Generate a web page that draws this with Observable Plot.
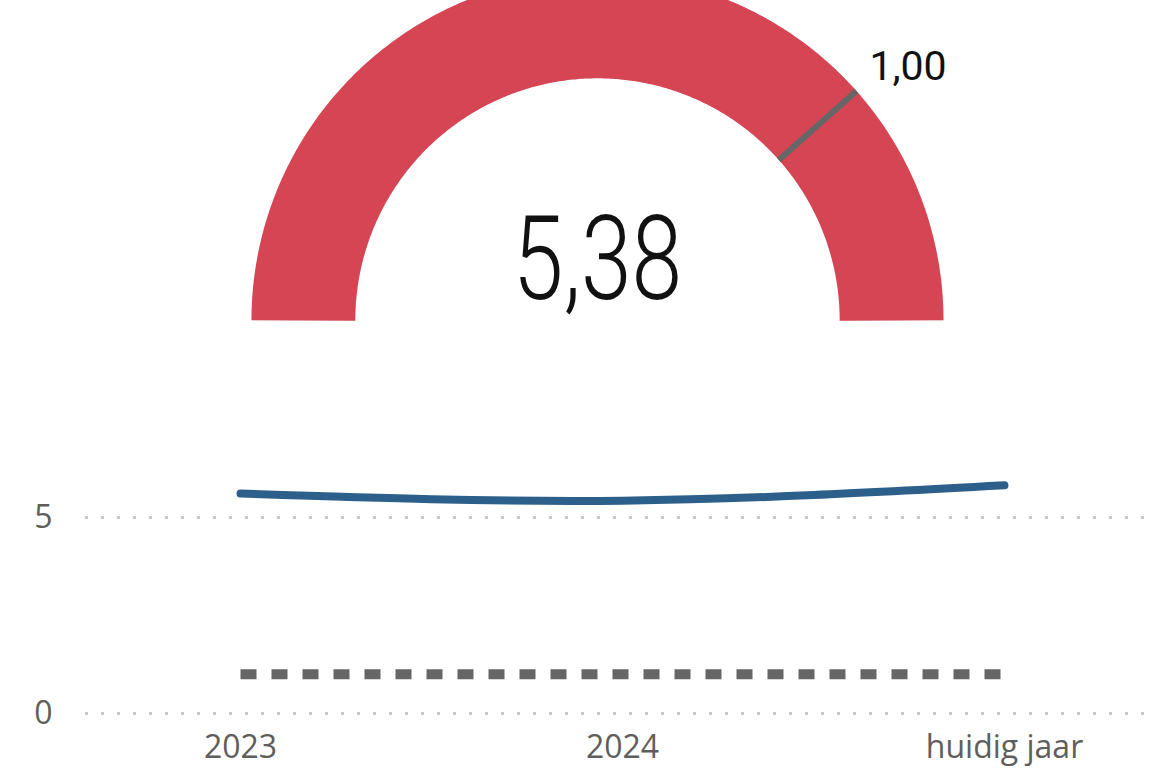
<!DOCTYPE html>
<html><head><meta charset="utf-8">
<script src="https://cdn.jsdelivr.net/npm/d3@7"></script>
<script src="https://cdn.jsdelivr.net/npm/@observablehq/plot@0.6"></script>
<style>
html,body{margin:0;padding:0;background:#fff;}
#chart svg{display:block;}
</style></head><body><div id="chart"></div>
<script>
// ---- data ----
const gaugeValue = 5.38;
const gaugeTarget = 1.0;
const gaugeMin = 0;
const gaugeMax = 1.3;
const categories = ["2023", "2024", "huidig jaar"];
const seriesValues = [5.61, 5.43, 5.82];
const targetValues = [1, 1, 1];
const yTicks = [0, 5];

const nl = d3.formatLocale({decimal: ",", thousands: ".", grouping: [3], currency: ["€ ", ""]});
const fmt2 = nl.format(".2f");

// ---- gauge ----
const W = 1159;
const gx = [251, 943], gy = [320, -26];
const pxPerUnit = (gx[1] - gx[0]) / 2;
const innerR = 0.70;
const band = (1 - innerR) * pxPerUnit;
const midR = (1 + innerR) / 2;
const frac = v => Math.max(0, Math.min(1, (v - gaugeMin) / (gaugeMax - gaugeMin)));
const angle = v => Math.PI * (1 - frac(v));
const arcPoints = (v0, v1) => {
  const a0 = angle(v0), a1 = angle(v1), n = 360;
  return d3.range(n + 1).map(i => {
    const a = a0 + (a1 - a0) * i / n;
    return {x: midR * Math.cos(a), y: midR * Math.sin(a)};
  });
};
const trackPts = arcPoints(gaugeMin, gaugeMax);
const valuePts = arcPoints(gaugeMin, gaugeValue);

const gauge = Plot.plot({
  width: W, height: 400, margin: 0,
  style: {background: "#fff"},
  x: {domain: [-1, 1], range: gx, axis: null},
  y: {domain: [0, 1], range: gy, axis: null},
  marks: [
    Plot.line(trackPts, {x: "x", y: "y", stroke: "#e6e6e6", strokeWidth: band, strokeLinecap: "butt"}),
    Plot.line(valuePts, {x: "x", y: "y", stroke: "#d64554", strokeWidth: band, strokeLinecap: "butt"}),
    Plot.link([gaugeTarget], {
      x1: d => innerR * Math.cos(angle(d)), y1: d => innerR * Math.sin(angle(d)),
      x2: d => Math.cos(angle(d)), y2: d => Math.sin(angle(d)),
      stroke: "#666", strokeWidth: 6
    }),
    Plot.text([gaugeTarget], {
      x: d => 1.05 * Math.cos(angle(d)), y: d => 1.05 * Math.sin(angle(d)),
      text: d => fmt2(d), textAnchor: "start", lineAnchor: "bottom",
      fontSize: 41, fontFamily: "Roboto", fill: "#111"
    }),
    Plot.text([gaugeValue], {
      x: () => 0, y: () => 0.1705, text: d => fmt2(d),
      fontSize: 117, fontWeight: 300, fontFamily: "Roboto", fill: "#111"
    })
  ]
});
// condense the big number horizontally
d3.select(gauge).selectAll("text").each(function() {
  if (this.textContent === fmt2(gaugeValue)) {
    const tr = this.getAttribute("transform") || "";
    const x = this.hasAttribute("x") ? +this.getAttribute("x") : 0;
    this.setAttribute("transform", `${tr} translate(${x},0) scale(0.78,1) translate(${-x},0)`);
  }
});

// ---- line chart ----
const rows = categories.map((c, i) => ({cat: c, value: seriesValues[i], target: targetValues[i]}));
const line = Plot.plot({
  width: W, height: 369, marginLeft: 85, marginRight: 14, marginTop: 20, marginBottom: 56,
  style: {fontFamily: "'Open Sans', sans-serif", fontSize: "32px", color: "#605e5c", background: "#fff", overflow: "visible"},
  x: {type: "point", domain: categories, range: [240, 1004], padding: 0, tickSize: 0, tickPadding: 22, label: null},
  y: {domain: [0, 5], range: [313, 117], ticks: yTicks, tickSize: 0, tickPadding: 33, label: null, tickFormat: d => nl.format("d")(d)},
  marks: [
    Plot.ruleY(yTicks, {stroke: "#c8c8c8", strokeWidth: 3, strokeDasharray: "3 13"}),
    Plot.line(rows, {x: "cat", y: "target", stroke: "#666666", strokeWidth: 10, strokeDasharray: "16 15", strokeLinecap: "butt"}),
    Plot.line(rows, {x: "cat", y: "value", stroke: "#2c5f8a", strokeWidth: 8, curve: "natural", strokeLinecap: "round"})
  ]
});

const root = document.getElementById("chart");
root.appendChild(gauge);
root.appendChild(line);
</script></body></html>
